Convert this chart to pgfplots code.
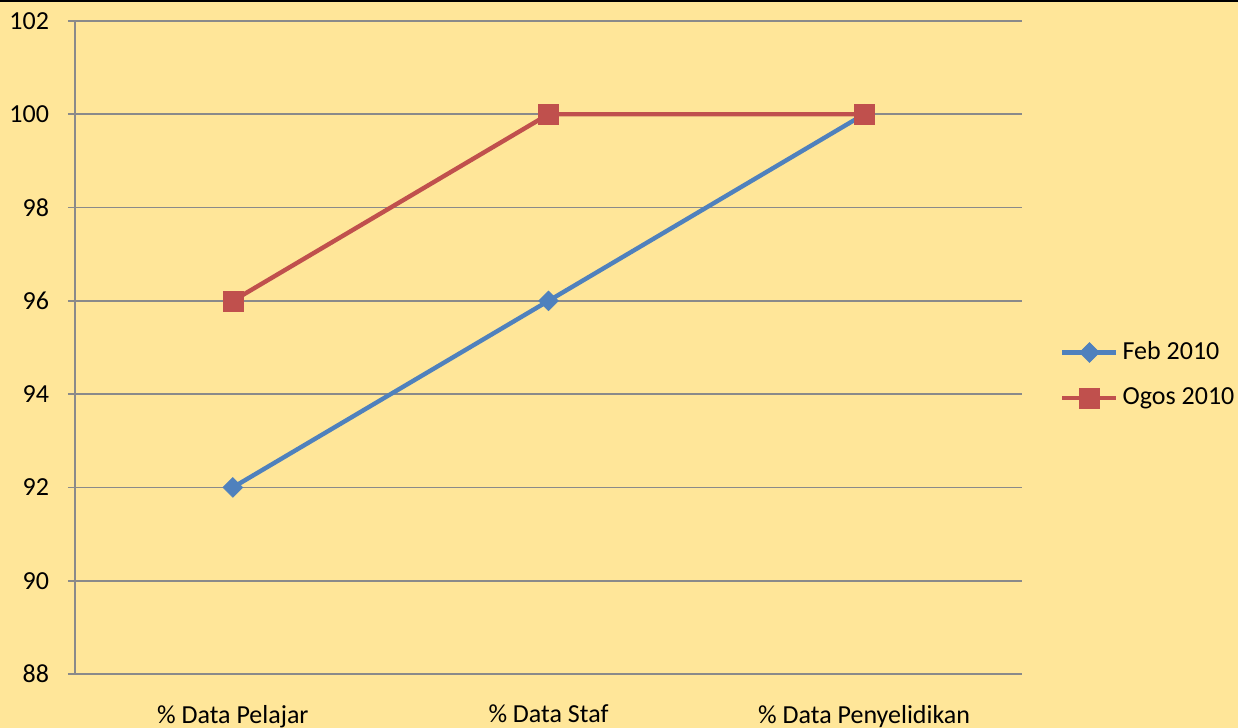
\documentclass[border=0pt]{standalone}
\usepackage{pgfplots}
\pgfplotsset{compat=1.18}
\usepackage{fontspec}
\setmainfont{Carlito}
\definecolor{bgyellow}{HTML}{FFE699}
\definecolor{gridgray}{HTML}{8A8A8A}
\definecolor{febblue}{HTML}{4F81BD}
\definecolor{ogosred}{HTML}{C0504D}
\begin{document}
\begin{tikzpicture}
\fontsize{13}{15}\selectfont
% page background
\fill[bgyellow] (-37.5pt,-27pt) rectangle (581.5pt,337pt);
\begin{axis}[
  scale only axis,
  width=473.5pt, height=326.5pt,
  xmin=-0.5, xmax=2.5,
  ymin=88, ymax=102,
  ytick={88,90,...,102},
  xtick={0,1,2},
  xticklabels={\% Data Pelajar, \% Data Staf, \% Data Penyelidikan},
  major x tick style={draw=none},
  extra x ticks={-0.5,0.5,1.5,2.5},
  extra x tick labels={},
  extra x tick style={grid=none, major tick length=4pt, tick align=outside, tick style={draw=gridgray, line width=0.8pt}},
  axis x line=bottom, axis y line=left,
  axis line style={draw=gridgray, line width=0.8pt, -},
  ymajorgrids,
  major grid style={draw=gridgray, line width=0.8pt},
  y tick style={draw=gridgray, line width=0.8pt},
  major tick length=3.5pt, tick align=outside,
  /pgf/number format/assume math mode=true,
  tick label style={font=\fontsize{13}{15}\selectfont, text=black},
  xticklabel style={yshift=-7.5pt},
  yticklabel style={xshift=-5pt},
  legend style={at={(1.04,0.458)}, anchor=west, draw=none, fill=none,
    font=\fontsize{13}{15}\selectfont, row sep=8pt, inner sep=0pt},
  legend cell align=left,
  legend image code/.code={%
    \draw[mark repeat=2,mark phase=2] plot coordinates {(0pt,0pt)(13.5pt,0pt)(27pt,0pt)};},
]
% diamonds are squares turned by 45 degrees
\addplot[febblue, line width=2.2pt, mark=square*, mark size=3.5pt,
  mark options={fill=febblue, draw=febblue, line width=0.3pt, rotate=45}]
  coordinates {(0,92) (1,96) (2,100)};
\addlegendentry{Feb 2010}
\addplot[ogosred, line width=2.2pt, mark=square*, mark size=5pt,
  mark options={fill=ogosred, draw=ogosred, line width=0.3pt}]
  coordinates {(0,96) (1,100) (2,100)};
\addlegendentry{Ogos 2010}
\end{axis}
% top frame edge
\draw[black, line width=1.2pt] (-37.5pt,336.4pt) -- (581.5pt,336.4pt);
\pgfresetboundingbox
\path[use as bounding box] (-37.5pt,-27pt) rectangle (581.5pt,337pt);
\end{tikzpicture}
\end{document}
